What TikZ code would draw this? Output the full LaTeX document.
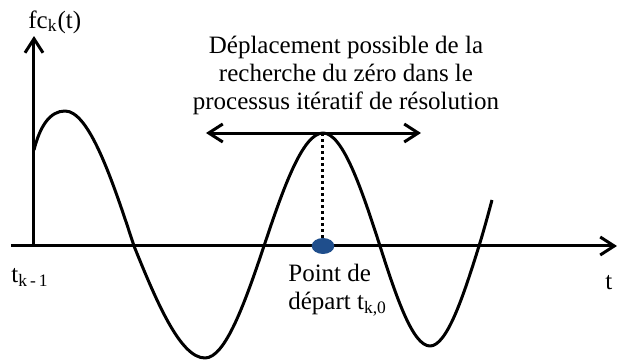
\documentclass[tikz,border=0pt]{standalone}
\usepackage{fontspec}
\setmainfont{Liberation Serif}
\usepackage{xcolor}
\usepackage{tikz}
\usetikzlibrary{arrows.meta,positioning,calc,shapes.geometric}
\definecolor{StartBlue}{HTML}{1F4E8C}

\begin{document}
\begin{tikzpicture}[
  x=0.5pt, y=0.5pt,
  >={Straight Barb[length=7pt, width=9pt, line width=1.5pt]},
  axis/.style={line width=1.5pt, ->},
  curve/.style={line width=1.5pt, line join=round},
  label/.style={inner sep=0pt, font=\fontsize{12.5}{14}\selectfont},
  startdot/.style={ellipse, fill=StartBlue, minimum width=11.3pt, minimum height=8pt, inner sep=0pt, outer sep=0pt}
]
  \useasboundingbox (0,0) rectangle (618,360);

  % axes
  \coordinate (xstart) at (11,114);
  \coordinate (xend) at (617,114);
  \coordinate (origin) at (34,114);
  \coordinate (ytop) at (34,324);
  \draw[axis] (xstart) -- (xend);
  \draw[axis] (origin) -- (ytop);

  \node[label, anchor=base west] (ylab) at (28,332) {fc\textsubscript{k}(t)};
  \node[label, anchor=base west] (tprev) at (11,77) {t\textsubscript{k\,-\,1}};
  \node[label, anchor=base west] (tlab) at (605,70) {t};

  % fonction
  \draw[curve] (34,210) .. controls (40,234) and (50,249) .. (65,249)
    .. controls (88.7,249) and (111.5,183) .. (134,114)
    .. controls (157.1,56.7) and (180.6,2) .. (205,2)
    .. controls (225.2,2) and (244.8,56.7) .. (264,114)
    .. controls (283.2,171.8) and (302.8,227) .. (323,227)
    .. controls (342.6,227) and (361.4,171.8) .. (380,114)
    .. controls (396.3,62.9) and (412.8,14) .. (430,14)
    .. controls (446.8,14) and (463.1,62.9) .. (479,114)
    .. controls (483.5,128.5) and (488,145) .. (492,160);

  % point de depart
  \coordinate (peak) at (323,227);
  \node[startdot] (start) at (323,114) {};
  \draw[line width=1.5pt, dash pattern=on 1.5pt off 1.5pt] (peak) -- (start);

  \coordinate (left) at (206,227);
  \coordinate (right) at (421,227);
  \draw[line width=1.5pt, <->] (left) -- (right);

  \node[label, align=center] (search) at (346,285) {D\'eplacement possible de la\\recherche du z\'ero dans le\\processus it\'eratif de r\'esolution};
  \node[label, align=left, anchor=base west] (startlab) at (288,50) {Point de\\d\'epart t\textsubscript{k,0}};
\end{tikzpicture}
\end{document}
